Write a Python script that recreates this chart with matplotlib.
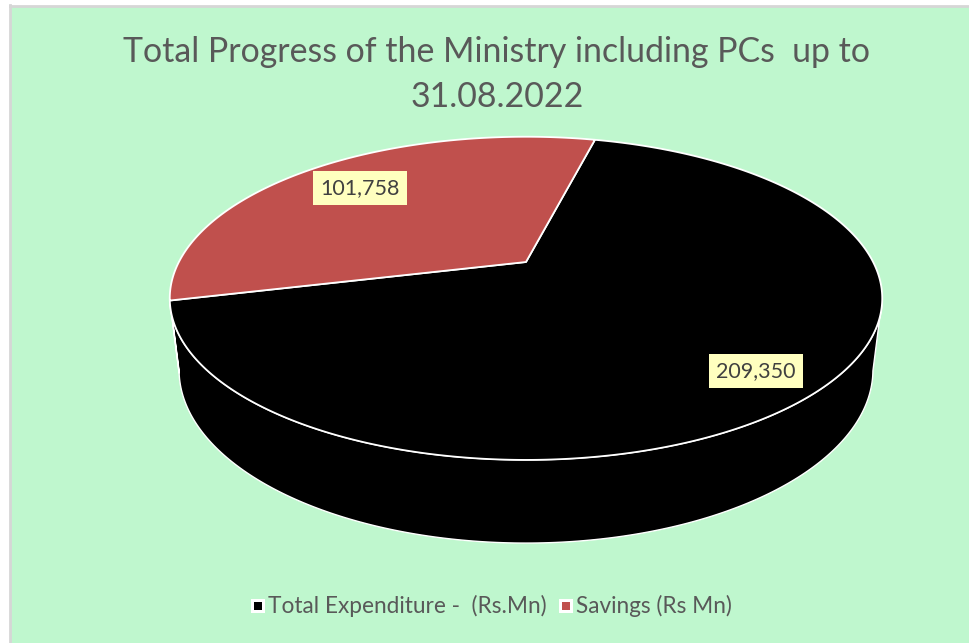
import numpy as np
import matplotlib
matplotlib.use("Agg")
import matplotlib.pyplot as plt
from matplotlib.patches import Polygon, Rectangle

# --- data -------------------------------------------------------------
title_lines = ["Total Progress of the Ministry including PCs  up to", "31.08.2022"]
categories = ["Total Expenditure -  (Rs.Mn)", "Savings (Rs Mn)"]
values = [209350, 101758]
value_labels = ["209,350", "101,758"]
colors = ["#000000", "#C0504D"]

# --- figure / canvas in pixel coordinates -------------------------------
W, H = 969, 643
fig = plt.figure(figsize=(W / 100, H / 100), dpi=100, facecolor="white")
ax = fig.add_axes([0, 0, 1, 1])
ax.set_xlim(0, W)
ax.set_ylim(H, 0)
ax.axis("off")

green = "#BFF7CE"
ax.add_patch(Rectangle((11, 6), W - 11, H - 6, facecolor=green, edgecolor="none", zorder=0))
ax.plot([10.5, 10.5], [5, H], color="#D6D6D6", lw=2, zorder=1)
ax.plot([10, W], [5.5, 5.5], color="#D6D6D6", lw=2, zorder=1)

text_color = "#595959"
font = "Lato"

# --- 3-D pie projection -------------------------------------------------
cx, cy = 526.0, 262.0          # projected pie centre on screen
f = 1385.0                     # focal scale
tilt = np.arcsin(0.442)        # viewing elevation
s_t, c_t = np.sin(tilt), np.cos(tilt)
D = 3.99                       # camera distance (pie radius = 1)
depth = 0.23                   # pie thickness


def project(theta, z):
    X = np.cos(theta)
    Y = np.sin(theta)
    d = D + Y * c_t - z * s_t
    sx = f * X / d
    sy = f * (Y * s_t + z * c_t) / d
    return np.column_stack([cx + sx, cy - sy])


total = float(sum(values))
spans = [v / total * 2 * np.pi for v in values]
start_red = np.deg2rad(76.0)
# slice ranges (counter-clockwise): savings first from start_red, expenditure after it
ranges = {}
ranges[1] = (start_red, start_red + spans[1])
ranges[0] = (start_red + spans[1], start_red + spans[1] + spans[0])

# visible outer-wall range between silhouette points
sil = np.arcsin(-1.0 / (D / c_t))
vis_lo, vis_hi = np.pi - sil, 2 * np.pi + sil   # ~193 deg .. ~347 deg


def wall_segments(a0, a1):
    segs = []
    for k in (-1, 0, 1):
        lo = max(a0, vis_lo + 2 * np.pi * k)
        hi = min(a1, vis_hi + 2 * np.pi * k)
        if hi > lo:
            segs.append((lo, hi))
    return segs


# outer walls
for i in (0, 1):
    a0, a1 = ranges[i]
    for lo, hi in wall_segments(a0, a1):
        t = np.linspace(lo, hi, 200)
        top = project(t, 0.0)
        bot = project(t[::-1], -depth)
        ax.add_patch(Polygon(np.vstack([top, bot]), closed=True, facecolor=colors[i],
                             edgecolor="white", lw=1.0, joinstyle="round", zorder=2))

# top faces
for i in (0, 1):
    a0, a1 = ranges[i]
    t = np.linspace(a0, a1, 400)
    rim = project(t, 0.0)
    pts = np.vstack([[cx, cy], rim])
    ax.add_patch(Polygon(pts, closed=True, facecolor=colors[i], edgecolor="white",
                         lw=1.3, joinstyle="round", zorder=3))

# data labels
label_pos = {0: (756, 371), 1: (360, 188)}
for i in (0, 1):
    x, y = label_pos[i]
    ax.text(x, y, value_labels[i], ha="center", va="center", fontsize=15.5,
            family=font, color="#404040", zorder=5,
            bbox=dict(boxstyle="square,pad=0.33", facecolor="#FFFFBF", edgecolor="none"))

# title
ax.text(497, 52, title_lines[0], ha="center", va="center", fontsize=24.4,
        family=font, color=text_color)
ax.text(497, 97, title_lines[1], ha="center", va="center", fontsize=24.4,
        family=font, color=text_color)

# legend
leg_y = 606
leg_x = [258, 566]
for i in (0, 1):
    x = leg_x[i]
    ax.add_patch(Rectangle((x - 7, leg_y - 7), 14, 14, facecolor="white", edgecolor="none", zorder=4))
    ax.add_patch(Rectangle((x - 4, leg_y - 4), 8, 8, facecolor=colors[i], edgecolor="none", zorder=5))
    ax.text(x + 10, leg_y, categories[i], ha="left", va="center", fontsize=16.3,
            family=font, color=text_color)

fig.savefig("out.png", dpi=100, facecolor=fig.get_facecolor())
